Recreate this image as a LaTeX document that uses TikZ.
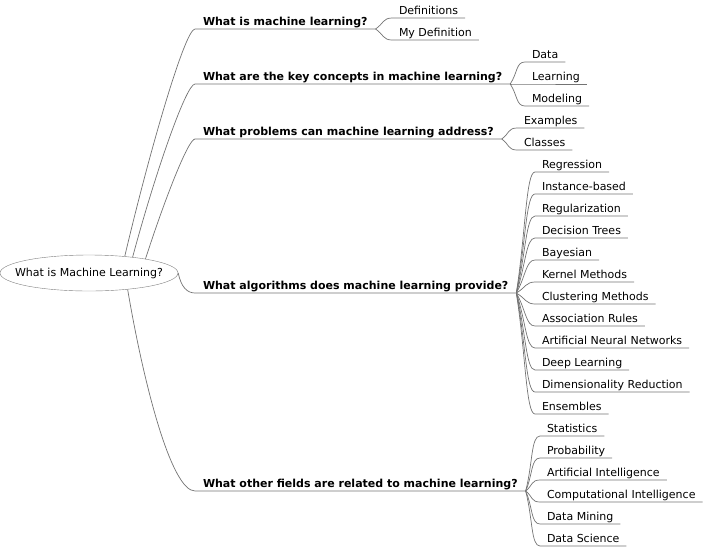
\documentclass[tikz,border=0pt]{standalone}
\usepackage{fontspec}
\setmainfont{DejaVu Sans}
\usetikzlibrary{calc,positioning,shapes.geometric}

\tikzset{
  rootnode/.style={ellipse,draw=black!50,fill=white,minimum width=178pt,minimum height=36pt,
    inner xsep=-12pt,inner ysep=0pt,font=\fontsize{11}{13}\selectfont},
  topic/.style={anchor=south west,inner xsep=8pt,inner ysep=4pt,text depth=0pt,outer sep=0pt,
    font=\fontsize{11}{13}\selectfont\bfseries},
  leaf/.style={anchor=south west,inner xsep=7pt,inner ysep=4pt,text depth=0pt,outer sep=0pt,
    font=\fontsize{11}{13}\selectfont},
  branch/.style={draw=black!55,line width=0.7pt}
}

\begin{document}
\begin{tikzpicture}[x=1pt,y=-1pt]
	\useasboundingbox (0,0) rectangle (704,547);
	\node[rootnode] (ml) at (89,273) {What is Machine Learning?};
	\node[topic] (what) at (195,29) {What is machine learning?};
	\node[topic] (concepts) at (195,84) {What are the key concepts in machine learning?};
	\node[topic] (problems) at (195,139) {What problems can machine learning address?};
	\node[topic] (algos) at (195,293) {What algorithms does machine learning provide?};
	\node[topic] (fields) at (195,491) {What other fields are related to machine learning?};
	\node[leaf] (defs) at (392,18) {Definitions};
	\node[leaf] (mydef) at (392,40) {My Definition};
	\node[leaf] (data) at (525,62) {Data};
	\node[leaf] (learn) at (525,84) {Learning};
	\node[leaf] (model) at (525,106) {Modeling};
	\node[leaf] (examples) at (517,128) {Examples};
	\node[leaf] (classes) at (517,150) {Classes};
	\path[branch]
		(ml.25) .. controls +(25,-106) and +(-10,0) .. (what.south west) -- (what.south east)
		(ml.20) .. controls +(22,-82) and +(-9,0) .. (concepts.south west) -- (concepts.south east)
		(ml.14) .. controls +(18,-56) and +(-7,0) .. (problems.south west) -- (problems.south east)
		(ml.east) .. controls +(3,14) and +(-8,0) .. (algos.south west) -- (algos.south east)
		(ml.-23) .. controls +(17,100) and +(-23,0) .. (fields.south west) -- (fields.south east);
	\foreach \up/\nd in {what/defs,what/mydef,concepts/data,concepts/learn,concepts/model,problems/examples,problems/classes}
		\draw[branch] (\up.south east) .. controls ($(\up.south east)!.5!(\nd.south west)$) and +(-9,0) .. (\nd.south west) -- (\nd.south east);
	\foreach \nd/\lbl [count=\i from 0] in {regr/Regression,inst/Instance-based,regul/Regularization,tree/Decision Trees,bayes/Bayesian,kernel/Kernel Methods,clust/Clustering Methods,assoc/Association Rules,ann/Artificial Neural Networks,deep/Deep Learning,dimred/Dimensionality Reduction,ens/Ensembles}{
		\node[leaf] (\nd) at (535,172+22*\i) {\lbl};
		\draw[branch] (algos.south east) .. controls ($(algos.south east)!.5!(\nd.south west)$) and +(-9,0) .. (\nd.south west) -- (\nd.south east);
	}
	\foreach \nd/\lbl [count=\i from 0] in {stat/Statistics,prob/Probability,ai/Artificial Intelligence,ci/Computational Intelligence,dm/Data Mining,ds/Data Science}{
		\node[leaf] (\nd) at (540,436+22*\i) {\lbl};
		\draw[branch] (fields.south east) .. controls ($(fields.south east)!.5!(\nd.south west)$) and +(-9,0) .. (\nd.south west) -- (\nd.south east);
	}
\end{tikzpicture}
\end{document}
